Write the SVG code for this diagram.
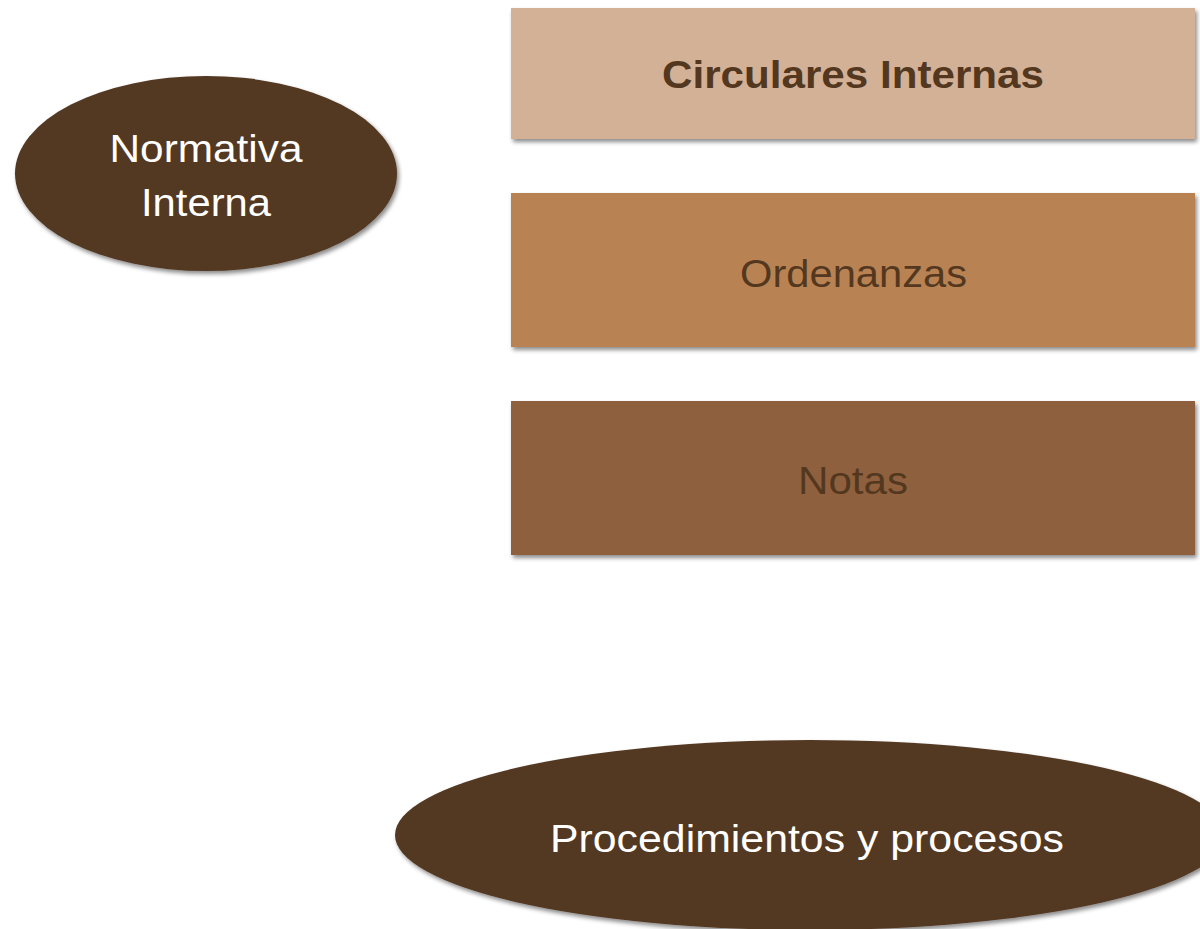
<svg xmlns="http://www.w3.org/2000/svg" width="1200" height="929" viewBox="0 0 1200 929">
  <style>
    .lbl { font-family: "Liberation Sans", Arial, sans-serif; font-size: 38px; text-anchor: middle; }
    .light { fill: #ffffff; }
    .dark { fill: #53381f; }
    .bold { font-weight: bold; font-size: 39px; }
    .oval { fill: #533823; filter: url(#shadow); }
    .box { filter: url(#shadow); }
  </style>
  <defs>
    <filter id="shadow" x="-10%" y="-10%" width="120%" height="130%">
      <feDropShadow dx="2" dy="3" stdDeviation="2.2" flood-color="#000000" flood-opacity="0.45"/>
    </filter>
  </defs>
  <rect width="1200" height="929" fill="#ffffff"/>
  <g id="connectors"></g>
  <g id="normativa-interna">
    <ellipse class="oval" cx="206" cy="173.5" rx="191" ry="97.5"/>
    <text class="lbl light" x="206" y="162" textLength="193" lengthAdjust="spacingAndGlyphs">Normativa</text>
    <text class="lbl light" x="206" y="216" textLength="130" lengthAdjust="spacingAndGlyphs">Interna</text>
  </g>
  <g id="circulares-internas">
    <rect class="box" x="511" y="8" width="684" height="131" fill="#d3b196"/>
    <text class="lbl dark bold" x="853" y="88" textLength="382" lengthAdjust="spacingAndGlyphs">Circulares Internas</text>
  </g>
  <g id="ordenanzas">
    <rect class="box" x="511" y="193" width="684" height="154" fill="#b98253"/>
    <text class="lbl dark" x="853.5" y="287" textLength="227" lengthAdjust="spacingAndGlyphs">Ordenanzas</text>
  </g>
  <g id="notas">
    <rect class="box" x="511" y="401" width="684" height="154" fill="#8f613d"/>
    <text class="lbl dark" x="853" y="494" textLength="110" lengthAdjust="spacingAndGlyphs">Notas</text>
  </g>
  <g id="procedimientos-y-procesos">
    <ellipse class="oval" cx="810" cy="835" rx="415" ry="95"/>
    <text class="lbl light" x="807" y="852" textLength="514" lengthAdjust="spacingAndGlyphs">Procedimientos y procesos</text>
  </g>
</svg>
